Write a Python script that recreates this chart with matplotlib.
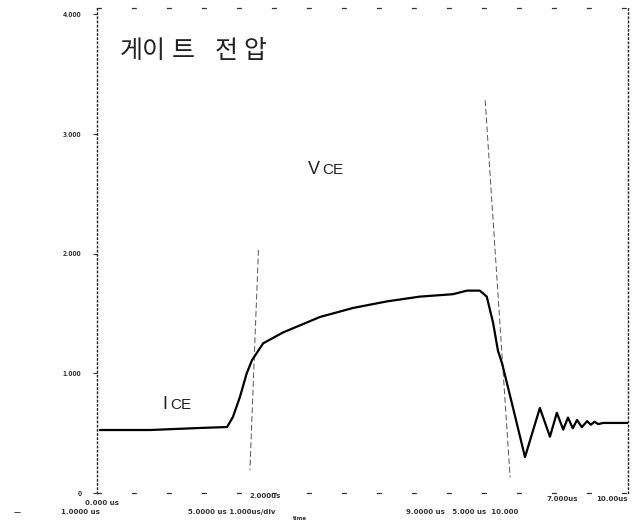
import numpy as np
import matplotlib
matplotlib.use("Agg")
import matplotlib.pyplot as plt

plt.rcParams['font.family'] = ['Noto Sans CJK KR', 'DejaVu Sans']

# ---- data (time in us, values in div units) ----
ice_t = [0.06, 1.0, 1.94, 2.45, 2.56, 2.69, 2.82, 2.92, 3.13, 3.50, 4.20, 4.82,
         5.46, 6.08, 6.70, 6.97, 7.21, 7.34, 7.46, 7.55, 7.63, 7.83, 8.06, 8.34,
         8.53, 8.66, 8.78, 8.87, 8.96, 9.04, 9.13, 9.23, 9.30, 9.37, 9.44, 9.53, 9.98]
ice_v = [0.526, 0.526, 0.543, 0.551, 0.635, 0.80, 1.00, 1.11, 1.25, 1.34, 1.47, 1.545,
         1.60, 1.64, 1.66, 1.69, 1.69, 1.64, 1.42, 1.19, 1.08, 0.72, 0.30, 0.71,
         0.47, 0.67, 0.53, 0.63, 0.54, 0.61, 0.55, 0.60, 0.57, 0.595, 0.575, 0.585, 0.585]

vce_t = [3.04, 2.88, np.nan, 7.31, 7.78]
vce_v = [2.03, 0.19, np.nan, 3.28, 0.13]

y_ticks = [0, 1, 2, 3, 4]
y_labels = ["0", "1.000", "2.000", "3.000", "4.000"]

title_chars = ["게", "이", "트", "전", "압"]
title_x = [0.65, 1.06, 1.62, 2.44, 2.97]

W, H = 636, 522
fig = plt.figure(figsize=(W/100, H/100), dpi=100)
ax = fig.add_axes([97/W, 1-493/H, (628-97)/W, (493-8)/H])
ax.set_xlim(0, 10)
ax.set_ylim(0, (493-8)/119.75)

ax.plot(vce_t, vce_v, color='#555555', lw=0.7, ls=(0, (6, 3)))
ax.plot(ice_t, ice_v, color='black', lw=1.6, solid_joinstyle='round')

for s in ['left', 'right']:
    ax.spines[s].set_linestyle((0, (1, 2)))
    ax.spines[s].set_linewidth(1.0)
    ax.spines[s].set_color('#222222')
for s in ['top', 'bottom']:
    ax.spines[s].set_linestyle((0, (3, 25)))
    ax.spines[s].set_linewidth(0.9)
    ax.spines[s].set_color('#333333')

ax.set_xticks([])
ax.set_yticks(y_ticks)
ax.set_yticklabels(y_labels, fontsize=5, color='#333333', fontweight='bold')
ax.tick_params(axis='y', length=3, width=0.8, color='#333333', pad=8)

for ch, xc in zip(title_chars, title_x):
    ax.text(xc, 3.69, ch, fontsize=18, color='#222222', va='center', ha='center',
            fontweight='light')

ax.text(3.97, 2.66, "V", fontsize=13, color='#222222', va='baseline', ha='left',
        family='Liberation Sans')
ax.text(4.25, 2.66, "CE", fontsize=11, color='#222222', va='baseline', ha='left',
        family='Liberation Sans')
ax.text(1.24, 0.70, "I", fontsize=13, color='#222222', va='baseline', ha='left',
        family='Liberation Sans')
ax.text(1.38, 0.70, "CE", fontsize=11, color='#222222', va='baseline', ha='left',
        family='Liberation Sans')

def ftext(px, py, s, size=5, ha='center'):
    fig.text(px/W, 1-py/H, s, fontsize=size, color='#333333', fontweight='bold',
             ha=ha, va='center', family='DejaVu Sans')

ftext(17, 512, "—")
ftext(80, 512, "1.0000 us")
ftext(102, 503, "0.000 us")
ftext(232, 512, "5.0000 us 1.000us/div")
ftext(265, 496, "2.000us")
ftext(300, 519, "time", size=4)
ftext(462, 512, "9.0000 us   5.000 us  10.000")
ftext(562, 499, "7.000us")
ftext(612, 499, "10.00us")

fig.savefig("out.png", dpi=100)
